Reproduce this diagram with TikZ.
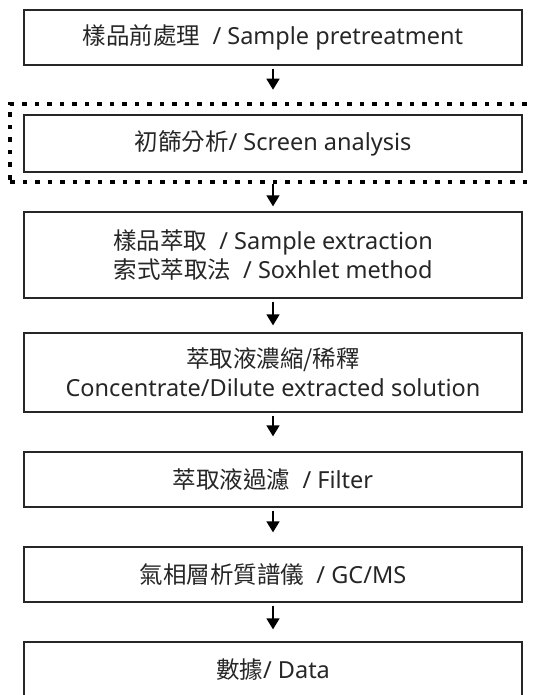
\documentclass[tikz,border=0pt]{standalone}
\usepackage{fontspec}
\setmainfont{Noto Sans}
\newfontfamily\cjk{Noto Sans CJK TC}
\usetikzlibrary{arrows.meta}
\newcommand{\zh}[1]{{\cjk #1}}
\begin{document}
\begin{tikzpicture}[
  x=1pt,y=-1pt,
  stepbox/.style={draw=black!85, line width=1.3pt, minimum width=498pt, inner sep=0pt,
    align=center, text=black!85, font=\fontsize{23.5}{29}\selectfont},
  dotbox/.style={draw=black, line width=4.5pt, dash pattern=on 4.5pt off 8pt,
    minimum width=538pt, minimum height=78pt, inner sep=0pt},
  arr/.style={line width=1.5pt, draw=black, -{Triangle[width=13pt,length=11pt]}}
]
\useasboundingbox (0,0) rectangle (533,695);
\begin{scope}
\clip (0,0) rectangle (533,695);
\node[stepbox, minimum height=55pt] (b1) at (273,37.5) {\zh{樣品前處理}\ \ / Sample pretreatment};
\node[dotbox] (dots) at (279,143) {};
\node[stepbox, minimum height=57pt] (b2) at (273,143.5) {\zh{初篩分析}/ Screen analysis};
\node[stepbox, minimum height=86pt] (b3) at (273,255) {\zh{樣品萃取}\ \ / Sample extraction\\\zh{索式萃取法}\ \ / Soxhlet method};
\node[stepbox, minimum height=79pt] (b4) at (273,372.5) {\zh{萃取液濃縮/稀釋}\\Concentrate/Dilute extracted solution};
\node[stepbox, minimum height=55pt] (b5) at (273,479.5) {\zh{萃取液過濾}\ \ / Filter};
\node[stepbox, minimum height=55pt] (b6) at (273,574.5) {\zh{氣相層析質譜儀}\ \ / GC/MS};
\node[stepbox, minimum height=55pt] (b7) at (273,669.5) {\zh{數據}/ Data};
\draw[arr, shorten <=3pt, shorten >=12pt] (b1.south) -- (b1.south |- dots.north);
\draw[arr, shorten <=0pt, shorten >=5pt] (b3.north |- dots.south) -- (b3.north);
\draw[arr, shorten <=3pt, shorten >=7pt] (b3.south) -- (b4.north);
\draw[arr, shorten <=3pt, shorten >=15pt] (b4.south) -- (b5.north);
\draw[arr, shorten <=3pt, shorten >=14pt] (b5.south) -- (b6.north);
\draw[arr, shorten <=3pt, shorten >=12pt] (b6.south) -- (b7.north);
\end{scope}
\end{tikzpicture}
\end{document}
